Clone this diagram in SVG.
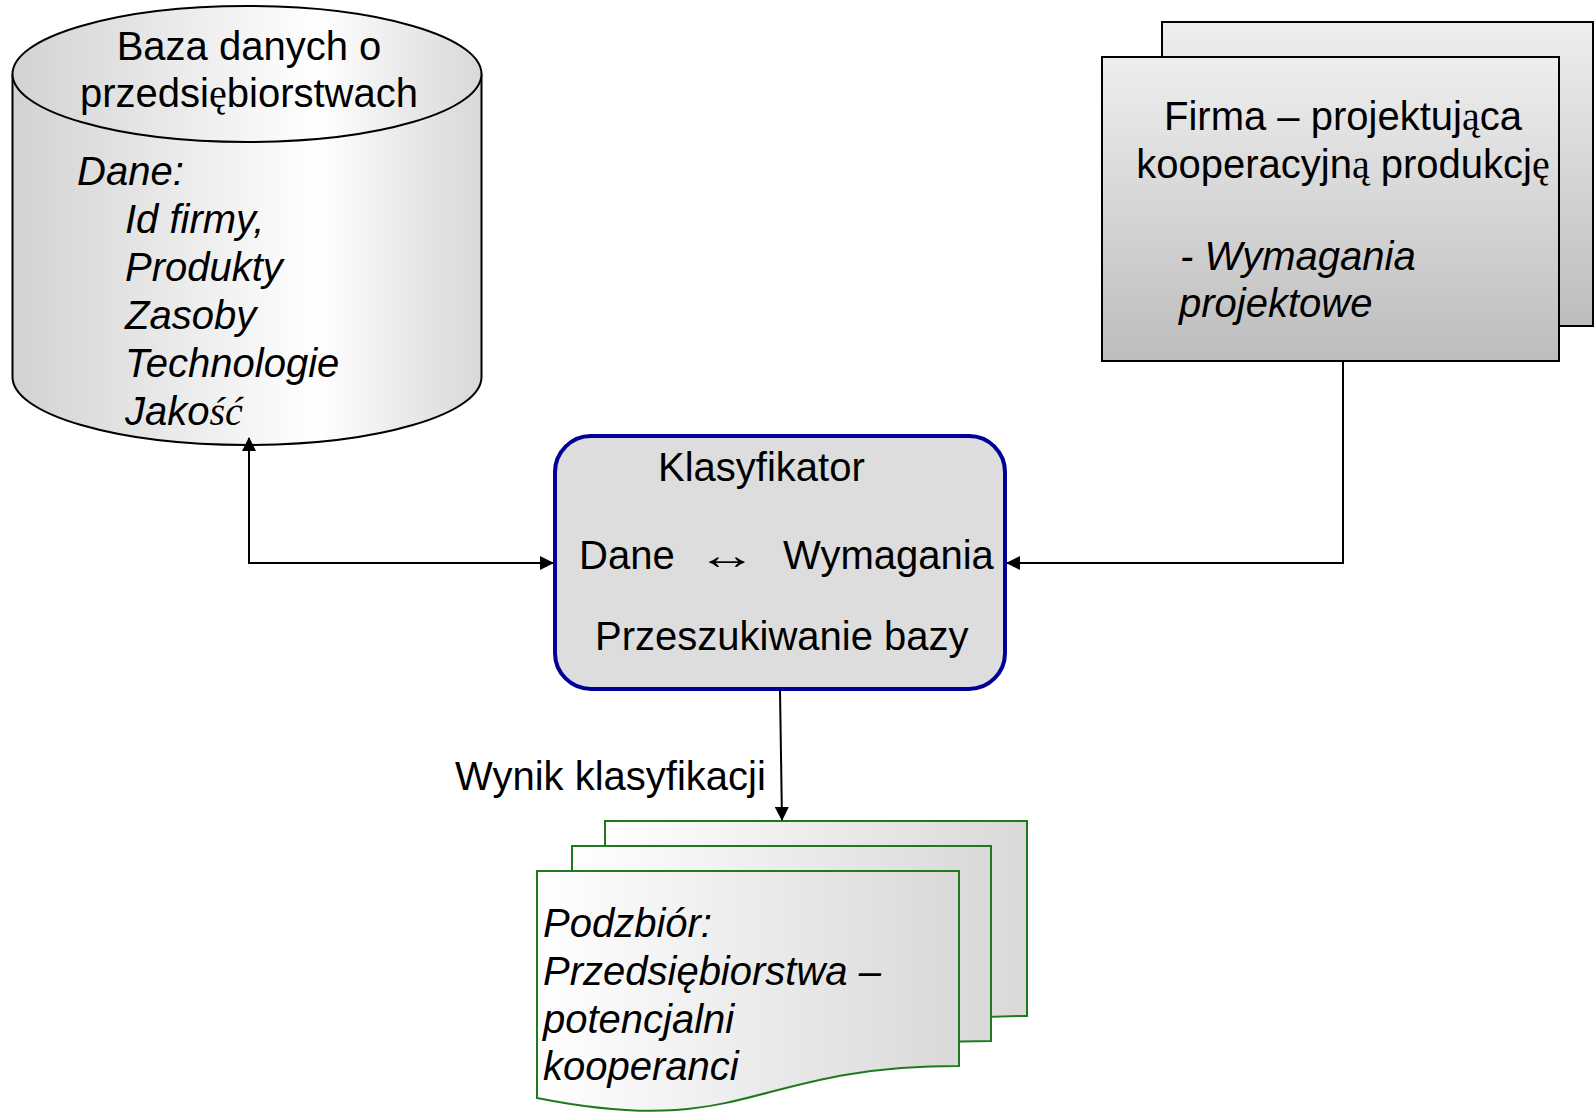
<svg xmlns="http://www.w3.org/2000/svg" width="1596" height="1112" viewBox="0 0 1596 1112">
  <style>
    .t { font-family: "Liberation Sans", Arial, sans-serif; font-size: 40px; fill: #000; }
    .i { font-style: italic; }
    .s { font-family: "Liberation Serif", "Times New Roman", serif; }
    .edge { fill: none; stroke: #000; stroke-width: 2; }
    .doc { stroke: #1f7a1f; stroke-width: 2; fill: url(#docFill); }
  </style>
  <defs>
    <linearGradient id="cylFill" x1="0" y1="0" x2="1" y2="0">
      <stop offset="0" stop-color="#d2d2d2"/>
      <stop offset="0.65" stop-color="#ffffff"/>
      <stop offset="1" stop-color="#d8d8d8"/>
    </linearGradient>
    <linearGradient id="boxFill" x1="0" y1="0" x2="0" y2="1">
      <stop offset="0" stop-color="#eeeeee"/>
      <stop offset="1" stop-color="#bdbdbd"/>
    </linearGradient>
    <linearGradient id="docFill" x1="0" y1="0" x2="1" y2="0">
      <stop offset="0" stop-color="#ffffff"/>
      <stop offset="1" stop-color="#d9d9d9"/>
    </linearGradient>
    <marker id="arrow" viewBox="0 0 14 14" refX="13" refY="7" markerWidth="14" markerHeight="14" markerUnits="userSpaceOnUse" orient="auto-start-reverse">
      <path d="M0,0 L14,7 L0,14 Z" fill="#000"/>
    </marker>
  </defs>

  <!-- company database (cylinder) -->
  <g id="database">
    <path d="M12.5,74 V377 A234.5,68 0 0 0 481.5,377 V74" fill="url(#cylFill)" stroke="#000" stroke-width="2"/>
    <ellipse cx="247" cy="74" rx="234.5" ry="68" fill="url(#cylFill)" stroke="#000" stroke-width="2"/>
    <text class="t" x="249" y="60" text-anchor="middle">Baza danych o</text>
    <text class="t" x="249" y="107" text-anchor="middle">przedsi<tspan class="s">ę</tspan>biorstwach</text>
    <text class="t i" x="77" y="185">Dane:</text>
    <text class="t i" x="125" y="233">Id firmy,</text>
    <text class="t i" x="125" y="281">Produkty</text>
    <text class="t i" x="125" y="329">Zasoby</text>
    <text class="t i" x="125" y="377">Technologie</text>
    <text class="t i" x="125" y="425">Jako<tspan class="s">ść</tspan></text>
  </g>

  <!-- designing company with requirements (stacked sheets) -->
  <g id="company">
    <rect x="1162" y="22" width="431" height="304" fill="url(#boxFill)" stroke="#000" stroke-width="2"/>
    <rect x="1102" y="57" width="457" height="304" fill="url(#boxFill)" stroke="#000" stroke-width="2"/>
    <text class="t" x="1343" y="130" text-anchor="middle">Firma – projektuj<tspan class="s">ą</tspan>ca</text>
    <text class="t" x="1343" y="178" text-anchor="middle">kooperacyjn<tspan class="s">ą</tspan> produkcj<tspan class="s">ę</tspan></text>
    <text class="t i" x="1180" y="270">- Wymagania</text>
    <text class="t i" x="1179" y="317">projektowe</text>
  </g>

  <!-- classifier -->
  <g id="classifier">
    <rect x="555" y="436" width="450" height="253" rx="36" ry="36" fill="#dddddd" stroke="#000099" stroke-width="4"/>
    <text class="t" x="658" y="481">Klasyfikator</text>
    <text class="t" x="579" y="569">Dane</text>
    <text class="t s" transform="translate(727,569) scale(1.5,1)" text-anchor="middle">↔</text>
    <text class="t" x="783" y="569">Wymagania</text>
    <text class="t" x="595" y="650">Przeszukiwanie bazy</text>
  </g>

  <!-- result documents -->
  <g id="result">
    <path class="doc" d="M605,821 H1027 V1016 C816,1016 816,1090 605,1048 Z"/>
    <path class="doc" d="M572,846 H991 V1041 C781,1041 781,1115 572,1073 Z"/>
    <path class="doc" d="M537,871 H959 V1066 C748,1066 748,1140 537,1098 Z"/>
    <text class="t i" x="543" y="937">Podzbiór:</text>
    <text class="t i" x="543" y="985">Przedsiębiorstwa –</text>
    <text class="t i" x="543" y="1033">potencjalni</text>
    <text class="t i" x="543" y="1080">kooperanci</text>
  </g>

  <!-- connectors -->
  <g id="connectors">
    <path class="edge" d="M249,438 V563 H553" marker-start="url(#arrow)" marker-end="url(#arrow)"/>
    <path class="edge" d="M1343,362 V563 H1007" marker-end="url(#arrow)"/>
    <path class="edge" d="M780,691 L782,820" marker-end="url(#arrow)"/>
    <text class="t" x="455" y="790">Wynik klasyfikacji</text>
  </g>
</svg>
